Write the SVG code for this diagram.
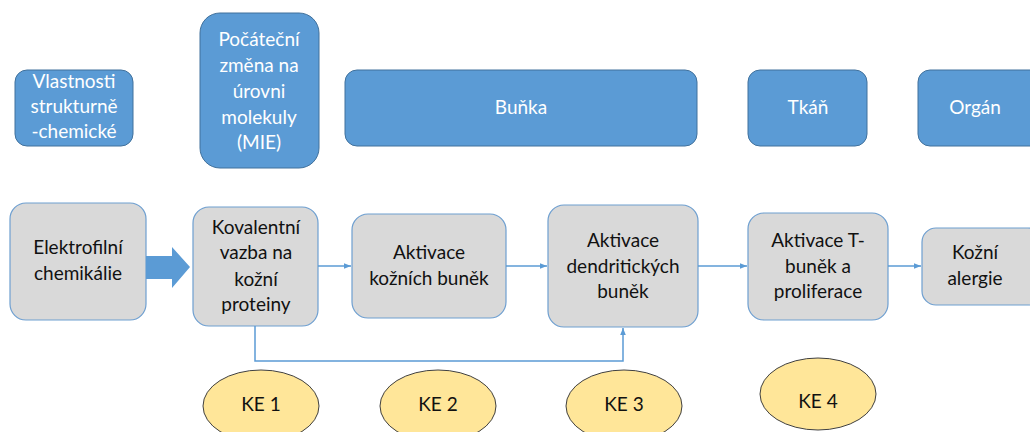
<svg xmlns="http://www.w3.org/2000/svg" width="1030" height="432" viewBox="0 0 1030 432">
  <defs>
    <style>
      .lvl { fill: #5B9BD5; stroke: #41719C; stroke-width: 1; }
      .step { fill: #D9D9D9; stroke: #6E9FD0; stroke-width: 1.2; }
      .ke { fill: #FFE699; stroke: #404040; stroke-width: 1; }
      .wt { fill: #FFFFFF; font-family: Lato, "Open Sans", sans-serif; font-size: 19px; text-anchor: middle; }
      .dk { fill: #111111; font-family: Lato, "Open Sans", sans-serif; font-size: 19px; text-anchor: middle; }
      .conn { fill: none; stroke: #5B9BD5; stroke-width: 1.5; }
    </style>
    <marker id="ah" viewBox="0 0 10 10" refX="10" refY="5" markerWidth="7" markerHeight="7" markerUnits="userSpaceOnUse" orient="auto">
      <path d="M0,1 L10,5 L0,9 Z" fill="#5B9BD5"/>
    </marker>
  </defs>

  <!-- organisation levels -->
  <g id="vlastnosti">
    <rect class="lvl" x="15" y="70" width="118" height="76" rx="12"/>
    <text class="wt" x="74" y="88">Vlastnosti</text>
    <text class="wt" x="74" y="113">strukturně</text>
    <text class="wt" x="74" y="138">-chemické</text>
  </g>
  <g id="mie">
    <rect class="lvl" x="200" y="13" width="119" height="155" rx="20"/>
    <text class="wt" x="259" y="46">Počáteční</text>
    <text class="wt" x="259" y="72">změna na</text>
    <text class="wt" x="259" y="98">úrovni</text>
    <text class="wt" x="259" y="124">molekuly</text>
    <text class="wt" x="259" y="149">(MIE)</text>
  </g>
  <g id="bunka">
    <rect class="lvl" x="345" y="70" width="352" height="76" rx="12"/>
    <text class="wt" x="521" y="114">Buňka</text>
  </g>
  <g id="tkan">
    <rect class="lvl" x="748" y="70" width="119" height="76" rx="12"/>
    <text class="wt" x="808" y="114">Tkáň</text>
  </g>
  <g id="organ">
    <rect class="lvl" x="918" y="70" width="125" height="76" rx="12"/>
    <text class="wt" x="975" y="114">Orgán</text>
  </g>

  <!-- pathway steps -->
  <g id="elektrofilni">
    <rect class="step" x="10" y="203" width="136" height="117" rx="16"/>
    <text class="dk" x="78" y="254">Elektrofilní</text>
    <text class="dk" x="78" y="280">chemikálie</text>
  </g>
  <g id="kovalentni">
    <rect class="step" x="193" y="207" width="125" height="119" rx="16"/>
    <text class="dk" x="256" y="234">Kovalentní</text>
    <text class="dk" x="256" y="259">vazba na</text>
    <text class="dk" x="256" y="286">kožní</text>
    <text class="dk" x="256" y="311">proteiny</text>
  </g>
  <g id="kozni-bunky">
    <rect class="step" x="352" y="214" width="154" height="104" rx="16"/>
    <text class="dk" x="429" y="259">Aktivace</text>
    <text class="dk" x="429" y="285">kožních buněk</text>
  </g>
  <g id="dendriticke">
    <rect class="step" x="548" y="205" width="150" height="122" rx="16"/>
    <text class="dk" x="623" y="247">Aktivace</text>
    <text class="dk" x="623" y="273">dendritických</text>
    <text class="dk" x="623" y="298">buněk</text>
  </g>
  <g id="t-bunky">
    <rect class="step" x="748" y="213" width="140" height="107" rx="16"/>
    <text class="dk" x="818" y="247">Aktivace T-</text>
    <text class="dk" x="818" y="273">buněk a</text>
    <text class="dk" x="818" y="298">proliferace</text>
  </g>
  <g id="alergie">
    <rect class="step" x="922" y="228" width="120" height="77" rx="14"/>
    <text class="dk" x="975" y="259">Kožní</text>
    <text class="dk" x="975" y="285">alergie</text>
  </g>

  <!-- key events -->
  <g id="ke1">
    <ellipse class="ke" cx="261" cy="406" rx="58" ry="36"/>
    <text class="dk" x="261" y="411">KE 1</text>
  </g>
  <g id="ke2">
    <ellipse class="ke" cx="438" cy="406" rx="58" ry="36"/>
    <text class="dk" x="438" y="411">KE 2</text>
  </g>
  <g id="ke3">
    <ellipse class="ke" cx="624" cy="406" rx="58" ry="36"/>
    <text class="dk" x="624" y="411">KE 3</text>
  </g>
  <g id="ke4">
    <ellipse class="ke" cx="818" cy="394" rx="58" ry="36"/>
    <text class="dk" x="818" y="408">KE 4</text>
  </g>

  <!-- connectors -->
  <g id="connectors">
    <path d="M146,256 L172,256 L172,247 L190,267 L172,288 L172,279 L146,279 Z" fill="#5B9BD5"/>
    <line class="conn" x1="318" y1="266" x2="351" y2="266" marker-end="url(#ah)"/>
    <line class="conn" x1="506" y1="266" x2="547" y2="266" marker-end="url(#ah)"/>
    <line class="conn" x1="698" y1="266" x2="747" y2="266" marker-end="url(#ah)"/>
    <line class="conn" x1="888" y1="266" x2="921" y2="266" marker-end="url(#ah)"/>
    <path class="conn" d="M255,326 L255,361 L623,361 L623,328" marker-end="url(#ah)"/>
  </g>
</svg>
